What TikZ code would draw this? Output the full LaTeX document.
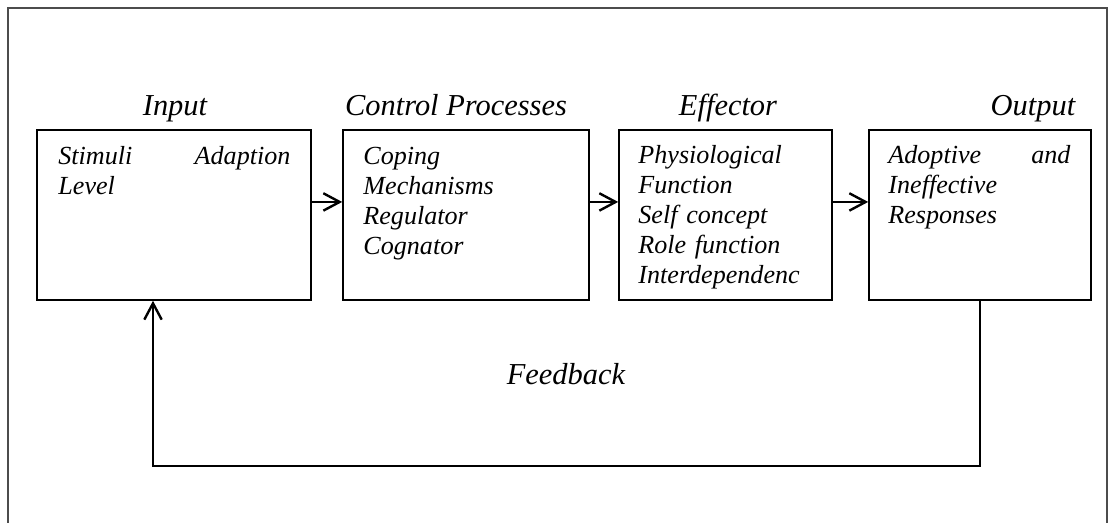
\documentclass[tikz,border=0pt]{standalone}
\usepackage{fontspec}
\setmainfont{Liberation Serif}
\usetikzlibrary{arrows.meta}
\begin{document}
\begin{tikzpicture}[x=0.46pt,y=-0.46pt,
  box/.style={draw,line width=0.75pt,minimum height=78.2pt,inner sep=0pt},
  title/.style={anchor=base,inner sep=0pt,font=\fontsize{14}{16}\selectfont\itshape},
  body/.style={anchor=base west,inner sep=0pt,align=left,font=\fontsize{12}{13.8}\selectfont\itshape},
  arr/.style={line width=1.1pt,-{Straight Barb[length=7.5pt,width=8pt,line width=1.1pt]}},
  framec/.style={draw=black!70,line width=0.55pt}]
\useasboundingbox (0,0) rectangle (1109,523);
\draw[framec] (8,523) -- (8,8) -- (1107,8) -- (1107,523);
% boxes
\node[box,minimum width=126.04pt] (b1) at (174,215) {};
\node[box,minimum width=113.16pt] (b2) at (466,215) {};
\node[box,minimum width=97.98pt] (b3) at (725.5,215) {};
\node[box,minimum width=102.12pt] (b4) at (980,215) {};
% titles
\node[title] (h1) at (175,116) {Input};
\node[title] (h2) at (456,116) {Control Processes};
\node[title] (h3) at (728,116) {Effector};
\node[title] (h4) at (1033,116) {Output};
% contents
\node[body,text width=106.7pt] (t1) at (58,165) {Stimuli\hfill Adaption\\Level};
\node[body,text width=105pt] (t2) at (363,165) {Coping\\Mechanisms\\Regulator\\Cognator};
\node[body,text width=92pt] (t3) at (638,164) {Physiological\\Function\\Self concept\\Role function\\Interdependenc};
\node[body,text width=83.7pt] (t4) at (888,164) {Adoptive\hfill and\\Ineffective\\Responses};
% arrows
\draw[arr] ([yshift=6pt]b1.east) -- ([yshift=6pt]b2.west);
\draw[arr] ([yshift=6pt]b2.east) -- ([yshift=6pt]b3.west);
\draw[arr] ([yshift=6pt]b3.east) -- ([yshift=6pt]b4.west);
% feedback
\coordinate (fb) at (153,466);
\draw[arr] (b4.south) |- (fb) -- (fb |- b1.south);
\node[title] (fl) at (566,385) {Feedback};
\end{tikzpicture}
\end{document}
